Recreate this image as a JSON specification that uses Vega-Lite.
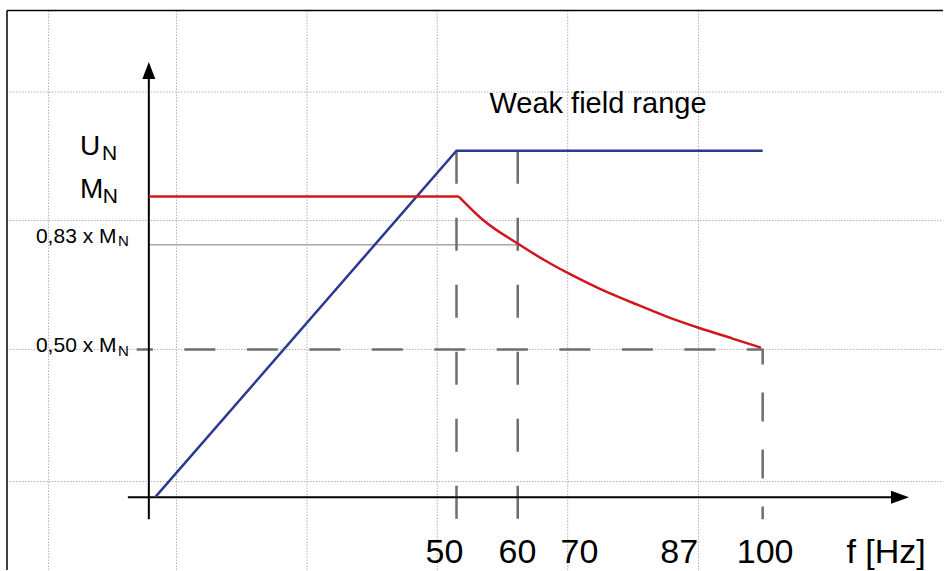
{
  "$schema": "https://vega.github.io/schema/vega-lite/v6.json",
  "width": 944,
  "height": 571,
  "padding": 0,
  "autosize": {"type": "fit", "contains": "padding"},
  "background": "white",
  "config": {
    "view": {"stroke": null},
    "text": {"font": "Liberation Sans", "color": "black"}
  },
  "datasets": {
    "rules": [
      {"kind": "grid", "x": -16.61, "x2": -16.61, "y": 1.617, "y2": -0.242},
      {"kind": "grid", "x": 4.27, "x2": 4.27, "y": 1.617, "y2": -0.242},
      {"kind": "grid", "x": 25.58, "x2": 25.58, "y": 1.617, "y2": -0.242},
      {"kind": "grid", "x": 46.85, "x2": 46.85, "y": 1.617, "y2": -0.242},
      {"kind": "grid", "x": 68.16, "x2": 68.16, "y": 1.617, "y2": -0.242},
      {"kind": "grid", "x": 89.53, "x2": 89.53, "y": 1.617, "y2": -0.242},
      {"kind": "grid", "x": -23.41, "x2": 129.45, "y": 1.346, "y2": 1.346},
      {"kind": "grid", "x": -23.41, "x2": 129.45, "y": 0.919, "y2": 0.919},
      {"kind": "grid", "x": -23.41, "x2": 129.45, "y": 0.491, "y2": 0.491},
      {"kind": "grid", "x": -23.41, "x2": 129.45, "y": 0.052, "y2": 0.052},
      {"kind": "frame", "x": -23.41, "x2": 129.45, "y": 1.617, "y2": 1.617},
      {"kind": "frame", "x": -23.41, "x2": -23.41, "y": 1.617, "y2": -0.242},
      {"kind": "ref", "x": -0.245, "x2": 60, "y": 0.839, "y2": 0.839},
      {"kind": "dashV", "x": 50, "x2": 50, "y": 1.151, "y2": -0.073},
      {"kind": "dashV", "x": 60, "x2": 60, "y": 1.151, "y2": -0.073},
      {"kind": "dash100", "x": 100, "x2": 100, "y": 0.494, "y2": -0.073},
      {"kind": "dashH", "x": -2.2, "x2": 99.9, "y": 0.491, "y2": 0.491},
      {"kind": "axis", "x": -0.245, "x2": -0.245, "y": -0.073, "y2": 1.42},
      {"kind": "axis", "x": -3.67, "x2": 122, "y": 0, "y2": 0}
    ],
    "curves": [
      {"series": "U_N", "x": 0.8, "y": 0},
      {"series": "U_N", "x": 50, "y": 1.151},
      {"series": "U_N", "x": 100, "y": 1.151},
      {"series": "M_N", "x": -0.245, "y": 0.999},
      {"series": "M_N", "x": 50.38, "y": 0.999},
      {"series": "M_N weak", "x": 50.38, "y": 0.999},
      {"series": "M_N weak", "x": 54.29, "y": 0.922},
      {"series": "M_N weak", "x": 60.11, "y": 0.841},
      {"series": "M_N weak", "x": 65.17, "y": 0.778},
      {"series": "M_N weak", "x": 68.16, "y": 0.745},
      {"series": "M_N weak", "x": 73.33, "y": 0.693},
      {"series": "M_N weak", "x": 78.77, "y": 0.646},
      {"series": "M_N weak", "x": 84.22, "y": 0.601},
      {"series": "M_N weak", "x": 89.53, "y": 0.563},
      {"series": "M_N weak", "x": 95.08, "y": 0.527},
      {"series": "M_N weak", "x": 99.71, "y": 0.497}
    ],
    "arrows": [
      {"dir": "up", "x": -0.245, "y": 1.446},
      {"dir": "right", "x": 123.9, "y": 0}
    ],
    "labels": [
      {"role": "big", "text": "U", "x": -11.5, "y": 1.138},
      {"role": "sub", "text": "N", "x": -7.91, "y": 1.121},
      {"role": "big", "text": "M", "x": -11.5, "y": 0.995},
      {"role": "sub", "text": "N", "x": -7.75, "y": 0.978},
      {"role": "ref", "text": "0,83 x M", "x": -18.68, "y": 0.846},
      {"role": "refsub", "text": "N", "x": -5.3, "y": 0.833},
      {"role": "ref", "text": "0,50 x M", "x": -18.68, "y": 0.481},
      {"role": "refsub", "text": "N", "x": -5.3, "y": 0.468},
      {"role": "note", "text": "Weak field range", "x": 55.38, "y": 1.277},
      {"role": "tick", "text": "50", "x": 48.04, "y": -0.219},
      {"role": "tick", "text": "60", "x": 59.95, "y": -0.219},
      {"role": "tick", "text": "70", "x": 70.07, "y": -0.219},
      {"role": "tick", "text": "87", "x": 86.38, "y": -0.219},
      {"role": "tick", "text": "100", "x": 100.4, "y": -0.219},
      {"role": "tick", "text": "f [Hz]", "x": 120.15, "y": -0.219}
    ]
  },
  "encoding": {
    "x": {"field": "x", "type": "quantitative", "axis": null,
          "scale": {"domain": [-24.55, 129.45], "nice": false, "zero": false}},
    "y": {"field": "y", "type": "quantitative", "axis": null,
          "scale": {"domain": [-0.242, 1.652], "nice": false, "zero": false}}
  },
  "layer": [
    {
      "data": {"name": "rules"},
      "transform": [{"filter": "datum.kind == 'grid'"}],
      "mark": {"type": "rule", "color": "#b0b0b0", "strokeWidth": 1, "strokeDash": [1.5, 1.5]},
      "encoding": {"x2": {"field": "x2"}, "y2": {"field": "y2"}}
    },
    {
      "data": {"name": "rules"},
      "transform": [{"filter": "datum.kind == 'frame'"}],
      "mark": {"type": "rule", "color": "black", "strokeWidth": 1.5},
      "encoding": {"x2": {"field": "x2"}, "y2": {"field": "y2"}}
    },
    {
      "data": {"name": "rules"},
      "transform": [{"filter": "datum.kind == 'ref'"}],
      "mark": {"type": "rule", "color": "#a8a8a8", "strokeWidth": 1.5},
      "encoding": {"x2": {"field": "x2"}, "y2": {"field": "y2"}}
    },
    {
      "data": {"name": "rules"},
      "transform": [{"filter": "datum.kind == 'dashV'"}],
      "mark": {"type": "rule", "color": "#6e6e6e", "strokeWidth": 2.5, "strokeDash": [33, 34]},
      "encoding": {"x2": {"field": "x2"}, "y2": {"field": "y2"}}
    },
    {
      "data": {"name": "rules"},
      "transform": [{"filter": "datum.kind == 'dash100'"}],
      "mark": {"type": "rule", "color": "#6e6e6e", "strokeWidth": 2.5, "strokeDash": [29, 28], "strokeDashOffset": 13},
      "encoding": {"x2": {"field": "x2"}, "y2": {"field": "y2"}}
    },
    {
      "data": {"name": "rules"},
      "transform": [{"filter": "datum.kind == 'dashH'"}],
      "mark": {"type": "rule", "color": "#6e6e6e", "strokeWidth": 2.5, "strokeDash": [31, 31.5], "strokeDashOffset": 15},
      "encoding": {"x2": {"field": "x2"}, "y2": {"field": "y2"}}
    },
    {
      "data": {"name": "rules"},
      "transform": [{"filter": "datum.kind == 'axis'"}],
      "mark": {"type": "rule", "color": "black", "strokeWidth": 2},
      "encoding": {"x2": {"field": "x2"}, "y2": {"field": "y2"}}
    },
    {
      "data": {"name": "curves"},
      "transform": [{"filter": "datum.series != 'M_N weak'"}],
      "mark": {"type": "line", "strokeWidth": 2.5},
      "encoding": {
        "color": {"field": "series", "type": "nominal", "legend": null,
                  "scale": {"domain": ["U_N", "M_N", "M_N weak"], "range": ["#2b3990", "#d0171e", "#d0171e"]}}
      }
    },
    {
      "data": {"name": "curves"},
      "transform": [{"filter": "datum.series == 'M_N weak'"}],
      "mark": {"type": "line", "strokeWidth": 2.5, "interpolate": "monotone"},
      "encoding": {
        "color": {"field": "series", "type": "nominal", "legend": null}
      }
    },
    {
      "data": {"name": "arrows"},
      "mark": {"type": "point", "filled": true, "opacity": 1, "color": "black", "size": 324, "strokeWidth": 0},
      "encoding": {
        "shape": {"field": "dir", "type": "nominal", "legend": null,
                  "scale": {"domain": ["up", "right"],
                            "range": ["M0,0L-0.72,1.9L0.72,1.9Z", "M0,0L-2,-0.72L-2,0.72Z"]}}
      }
    },
    {
      "data": {"name": "labels"},
      "transform": [{"filter": "datum.role == 'big'"}],
      "mark": {"type": "text", "fontSize": 28, "align": "left", "baseline": "alphabetic"},
      "encoding": {"text": {"field": "text"}}
    },
    {
      "data": {"name": "labels"},
      "transform": [{"filter": "datum.role == 'sub' || datum.role == 'ref'"}],
      "mark": {"type": "text", "fontSize": 21, "align": "left", "baseline": "alphabetic"},
      "encoding": {"text": {"field": "text"}}
    },
    {
      "data": {"name": "labels"},
      "transform": [{"filter": "datum.role == 'refsub'"}],
      "mark": {"type": "text", "fontSize": 15, "align": "left", "baseline": "alphabetic"},
      "encoding": {"text": {"field": "text"}}
    },
    {
      "data": {"name": "labels"},
      "transform": [{"filter": "datum.role == 'note'"}],
      "mark": {"type": "text", "fontSize": 29, "align": "left", "baseline": "alphabetic"},
      "encoding": {"text": {"field": "text"}}
    },
    {
      "data": {"name": "labels"},
      "transform": [{"filter": "datum.role == 'tick'"}],
      "mark": {"type": "text", "fontSize": 34, "align": "center", "baseline": "alphabetic"},
      "encoding": {"text": {"field": "text"}}
    }
  ]
}
